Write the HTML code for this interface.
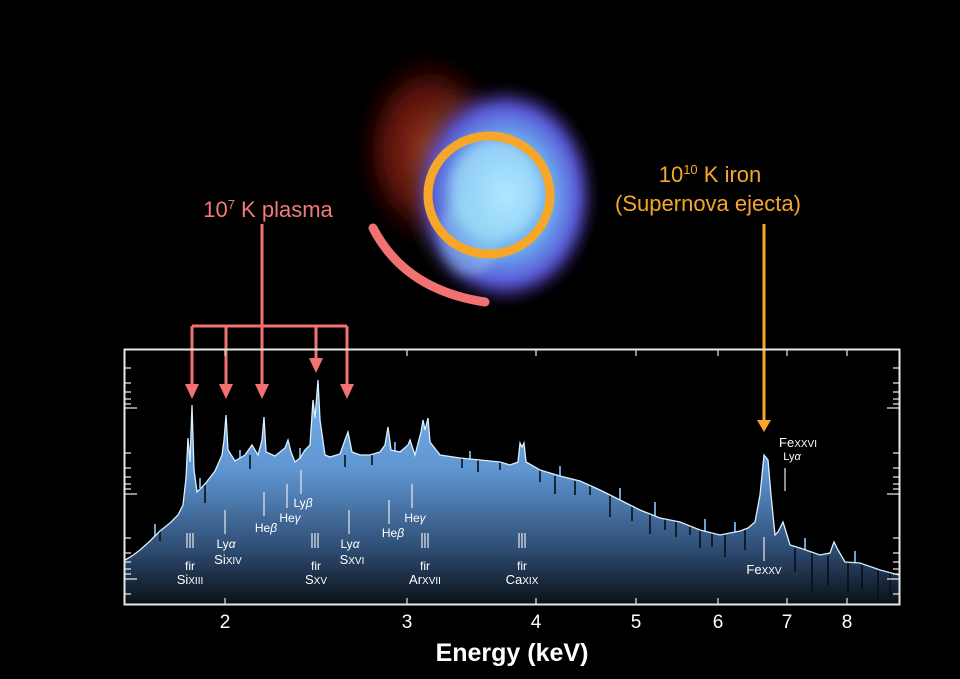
<!DOCTYPE html>
<html><head><meta charset="utf-8"><style>
html,body{margin:0;padding:0;background:#000;}
svg{display:block;}
text{font-family:"Liberation Sans",sans-serif;}
</style></head><body>
<svg width="960" height="679" viewBox="0 0 960 679" xmlns="http://www.w3.org/2000/svg">
<defs>
<linearGradient id="sp" x1="0" y1="380" x2="0" y2="605" gradientUnits="userSpaceOnUse">
<stop offset="0" stop-color="#7ab2ea"/>
<stop offset="0.4" stop-color="#5f96d2"/>
<stop offset="0.75" stop-color="#2f4d74"/>
<stop offset="1" stop-color="#0a0f16"/>
</linearGradient>
<radialGradient id="neb" cx="0.5" cy="0.5" r="0.5">
<stop offset="0" stop-color="#9fe4ff"/>
<stop offset="0.5" stop-color="#6cb0f0"/>
<stop offset="0.8" stop-color="#5a58d8"/>
<stop offset="1" stop-color="#3a1870" stop-opacity="0"/>
</radialGradient>
<radialGradient id="red" cx="0.5" cy="0.5" r="0.5">
<stop offset="0" stop-color="#b03a20" stop-opacity="0.9"/>
<stop offset="0.6" stop-color="#7a1a10" stop-opacity="0.7"/>
<stop offset="1" stop-color="#300" stop-opacity="0"/>
</radialGradient>
<radialGradient id="grn" cx="0.5" cy="0.5" r="0.5">
<stop offset="0" stop-color="#90b080" stop-opacity="0.8"/>
<stop offset="1" stop-color="#506030" stop-opacity="0"/>
</radialGradient>
<filter id="bl"><feGaussianBlur stdDeviation="5"/></filter>
</defs>

<!-- nebula -->
<g filter="url(#bl)">
<ellipse cx="430" cy="150" rx="75" ry="100" fill="url(#red)"/>
<ellipse cx="460" cy="185" rx="55" ry="100" fill="url(#grn)"/>
<ellipse cx="505" cy="195" rx="92" ry="110" fill="url(#neb)"/>
<ellipse cx="495" cy="190" rx="45" ry="50" fill="#bff0ff" opacity="0.45"/>
<ellipse cx="470" cy="235" rx="30" ry="40" fill="#9adcf0" opacity="0.4"/>
</g>
<ellipse cx="489" cy="195" rx="61" ry="59" fill="none" stroke="#f6a72a" stroke-width="9"/>
<path d="M373,228 Q405,290 485,302" fill="none" stroke="#f27272" stroke-width="9" stroke-linecap="round"/>

<!-- labels -->
<text x="268" y="217" font-size="22" fill="#f27a7a" text-anchor="middle">10<tspan font-size="13" dy="-8">7</tspan><tspan dy="8"> K plasma</tspan></text>
<text x="710" y="182" font-size="22" fill="#f6a72a" text-anchor="middle">10<tspan font-size="13" dy="-8">10</tspan><tspan dy="8"> K iron</tspan></text>
<text x="708" y="211" font-size="22" fill="#f6a72a" text-anchor="middle">(Supernova ejecta)</text>

<!-- pink arrows -->
<g stroke="#f27272" stroke-width="3" fill="none">
<path d="M262,224 V326 M192,326 H347 M192,326 V386 M226,326 V386 M262,326 V386 M316,326 V360 M347,326 V386"/>
</g>
<g fill="#f27272">
<path d="M185,384 L199,384 L192,399Z"/>
<path d="M219,384 L233,384 L226,399Z"/>
<path d="M255,384 L269,384 L262,399Z"/>
<path d="M309,358 L323,358 L316,373Z"/>
<path d="M340,384 L354,384 L347,399Z"/>
</g>
<path d="M764,224 V422" stroke="#f6a72a" stroke-width="3"/>
<path d="M757,420 L771,420 L764,432Z" fill="#f6a72a"/>

<!-- spectrum -->
<path fill="url(#sp)" d="M125,605 L125,560 L132,556 L140,550 L150,541 L160,531 L170,523 L178,515 L183,505 L186,478 L188,438 L190,462 L192,405 L194,470 L197,492 L205,484 L215,471 L222,455 L224,440 L226,415 L228,450 L235,461 L245,455 L252,445 L258,455 L262,440 L264,417 L266,452 L275,456 L285,448 L288,440 L291,452 L295,462 L300,458 L305,450 L310,445 L313,400 L315,418 L318,380 L320,420 L325,455 L330,457 L340,454 L345,440 L348,432 L352,452 L360,455 L370,455 L380,452 L385,445 L388,427 L391,450 L400,452 L408,445 L410,440 L415,455 L421,432 L423,420 L425,430 L428,418 L430,442 L440,455 L460,458 L480,460 L500,462 L510,465 L518,462 L520,443 L522,447 L524,443 L526,462 L540,470 L560,476 L580,481 L600,490 L620,500 L640,510 L660,518 L680,522 L700,530 L720,535 L740,531 L748,528 L755,522 L760,495 L764,455 L768,460 L771,495 L775,535 L778,532 L783,522 L787,535 L790,545 L800,548 L820,555 L830,553 L834,542 L838,550 L845,562 L860,563 L880,570 L899,575 L899,605 Z"/>
<!-- noise spikes -->
<g stroke="#0a0f18" stroke-width="2" opacity="0.8">
<path d="M160,531v10 M205,485v18 M250,455v14 M345,455v12 M372,455v10 M462,458v10 M478,460v12 M500,462v8 M540,470v12 M555,476v18 M575,481v14 M590,485v10 M610,495v22 M632,505v16 M650,514v20 M665,518v12 M676,521v16 M690,525v10 M700,530v18 M712,533v14 M725,535v22 M745,530v20 M795,548v24 M812,553v40 M828,556v30 M848,562v30 M862,563v26 M878,570v30 M890,573v25"/>
</g>
<g stroke="#7ab2ea" stroke-width="2" opacity="0.9">
<path d="M155,536v-12 M200,488v-10 M240,458v-8 M300,458v-10 M395,452v-10 M470,459v-8 M560,476v-10 M620,500v-12 M655,516v-14 M705,531v-12 M735,532v-10 M805,550v-12 M855,563v-12"/>
</g>
<path fill="none" stroke="#d8f0ff" stroke-width="1.3" d="M125,560 L132,556 L140,550 L150,541 L160,531 L170,523 L178,515 L183,505 L186,478 L188,438 L190,462 L192,405 L194,470 L197,492 L205,484 L215,471 L222,455 L224,440 L226,415 L228,450 L235,461 L245,455 L252,445 L258,455 L262,440 L264,417 L266,452 L275,456 L285,448 L288,440 L291,452 L295,462 L300,458 L305,450 L310,445 L313,400 L315,418 L318,380 L320,420 L325,455 L330,457 L340,454 L345,440 L348,432 L352,452 L360,455 L370,455 L380,452 L385,445 L388,427 L391,450 L400,452 L408,445 L410,440 L415,455 L421,432 L423,420 L425,430 L428,418 L430,442 L440,455 L460,458 L480,460 L500,462 L510,465 L518,462 L520,443 L522,447 L524,443 L526,462 L540,470 L560,476 L580,481 L600,490 L620,500 L640,510 L660,518 L680,522 L700,530 L720,535 L740,531 L748,528 L755,522 L760,495 L764,455 L768,460 L771,495 L775,535 L778,532 L783,522 L787,535 L790,545 L800,548 L820,555 L830,553 L834,542 L838,550 L845,562 L860,563 L880,570 L899,575"/>

<!-- axes box -->
<rect x="124.5" y="349.5" width="775" height="255" fill="none" stroke="#e8e8e8" stroke-width="2"/>
<g stroke="#e8e8e8" stroke-width="1.2">
<path d="M125,408h12 M125,494h12 M125,579h12 M125,368h6 M125,383h6 M125,392h6 M125,399h6 M125,404h6 M125,453h6 M125,468h6 M125,477h6 M125,484h6 M125,489h6 M125,538h6 M125,553h6 M125,562h6 M125,569h6 M125,574h6 M125,594h6"/>
<path d="M899,408h-12 M899,494h-12 M899,579h-12 M899,368h-6 M899,383h-6 M899,392h-6 M899,399h-6 M899,404h-6 M899,453h-6 M899,468h-6 M899,477h-6 M899,484h-6 M899,489h-6 M899,538h-6 M899,553h-6 M899,562h-6 M899,569h-6 M899,574h-6 M899,594h-6"/>
<path d="M225,604v-6 M407,604v-6 M536,604v-6 M636,604v-6 M718,604v-6 M787,604v-6 M847,604v-6 M225,350v6 M407,350v6 M536,350v6 M636,350v6 M718,350v6 M787,350v6 M847,350v6"/>
</g>
<g fill="#fff" font-size="19" text-anchor="middle">
<text x="225" y="628">2</text><text x="407" y="628">3</text><text x="536" y="628">4</text><text x="636" y="628">5</text><text x="718" y="628">6</text><text x="787" y="628">7</text><text x="847" y="628">8</text>
</g>
<text x="512" y="661" fill="#fff" font-size="25" font-weight="bold" text-anchor="middle">Energy (keV)</text>

<!-- line annotations -->
<g stroke="#e8e8e8" stroke-width="1.2">
<path d="M187,533v15 M190,533v15 M193,533v15 M225,510v24 M264,492v24 M287,484v24 M301,470v24 M312,533v15 M315,533v15 M318,533v15 M349,510v24 M389,500v24 M412,484v24 M422,533v15 M425,533v15 M428,533v15 M519,533v15 M522,533v15 M525,533v15 M764,537v24 M785,468v23"/>
</g>
<g fill="#fff" font-size="12" text-anchor="middle">
<text x="190" y="570">fir</text>
<text x="190" y="584" font-size="13">Si<tspan font-size="10">XIII</tspan></text>
<text x="226" y="548">Ly<tspan font-style="italic">α</tspan></text>
<text x="228" y="564" font-size="13">Si<tspan font-size="10">XIV</tspan></text>
<text x="266" y="532">He<tspan font-style="italic">β</tspan></text>
<text x="290" y="522">He<tspan font-style="italic">γ</tspan></text>
<text x="303" y="507">Ly<tspan font-style="italic">β</tspan></text>
<text x="316" y="570">fir</text>
<text x="316" y="584" font-size="13">S<tspan font-size="10">XV</tspan></text>
<text x="350" y="548">Ly<tspan font-style="italic">α</tspan></text>
<text x="352" y="564" font-size="13">S<tspan font-size="10">XVI</tspan></text>
<text x="393" y="537">He<tspan font-style="italic">β</tspan></text>
<text x="415" y="522">He<tspan font-style="italic">γ</tspan></text>
<text x="425" y="570">fir</text>
<text x="425" y="584" font-size="13">Ar<tspan font-size="10">XVII</tspan></text>
<text x="522" y="570">fir</text>
<text x="522" y="584" font-size="13">Ca<tspan font-size="10">XIX</tspan></text>
<text x="764" y="574" font-size="13">Fe<tspan font-size="10">XXV</tspan></text>
<text x="798" y="447" font-size="13">Fe<tspan font-size="10">XXVI</tspan></text>
<text x="792" y="460" font-size="11">Ly<tspan font-style="italic">α</tspan></text>
</g>
</svg>
</body></html>
